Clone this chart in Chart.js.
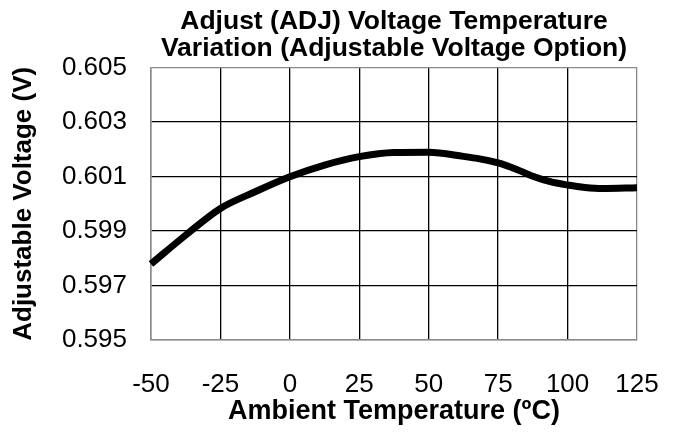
<!DOCTYPE html>
<html>
<head>
<meta charset="utf-8">
<script src="https://cdn.jsdelivr.net/npm/chart.js@4/dist/chart.umd.min.js"></script>
<style>
  html, body { margin: 0; padding: 0; background: #fff; }
  #wrap { width: 676px; height: 434px; }
</style>
</head>
<body>
<div id="wrap"><canvas id="c" width="676" height="434"></canvas></div>
<script>
const temperatures = [-50, -37.5, -25, -12.5, 0, 12.5, 25, 37.5, 50, 62.5, 68.75, 75, 81.25, 87.5, 93.75, 100, 106.25, 112.5, 125];
const voltages = [0.59779, 0.59885, 0.59983, 0.60044, 0.60099, 0.60142, 0.60173, 0.60188, 0.60189, 0.60174, 0.60164, 0.60150, 0.60128, 0.60101, 0.60081, 0.60069, 0.60060, 0.60056, 0.60059];
const xTicks = [-50, -25, 0, 25, 50, 75, 100, 125];
const yTicks = [0.595, 0.597, 0.599, 0.601, 0.603, 0.605];
const titleLines = ['Adjust (ADJ) Voltage Temperature', 'Variation (Adjustable Voltage Option)'];
const xTitle = 'Ambient Temperature (ºC)';
const yTitle = 'Adjustable Voltage (V)';

const FONT = '"Liberation Sans", Arial, Helvetica, sans-serif';
const points = temperatures.map((t, i) => ({ x: t, y: voltages[i] }));

function gridColor(ctx) {
  const n = ctx.scale.ticks.length;
  return (ctx.index === 0 || ctx.index === n - 1) ? '#8a8a8a' : '#000000';
}

new Chart(document.getElementById('c'), {
  type: 'line',
  data: {
    datasets: [{
      data: points,
      borderColor: '#000',
      borderWidth: 7,
      pointRadius: 0,
      cubicInterpolationMode: 'monotone',
      fill: false,
      clip: false
    }]
  },
  options: {
    responsive: false,
    animation: false,
    devicePixelRatio: 1,
    layout: { padding: { left: 6, right: 39, top: 8, bottom: 0 } },
    plugins: {
      legend: { display: false },
      tooltip: { enabled: false },
      title: {
        display: true,
        fullSize: false,
        text: titleLines,
        color: '#000',
        font: { family: FONT, size: 26.5, weight: 'bold', lineHeight: 1.02 },
        padding: { top: 0, bottom: 5.5 }
      }
    },
    scales: {
      x: {
        type: 'linear',
        min: -50,
        max: 125,
        afterBuildTicks: s => { s.ticks = xTicks.map(v => ({ value: v })); },
        afterFit: s => { s.height = 94; s.paddingLeft = 0; s.paddingRight = 0; },
        ticks: {
          color: '#000',
          font: { family: FONT, size: 26 },
          padding: 29,
          maxRotation: 0,
          autoSkip: false
        },
        grid: { color: gridColor, lineWidth: 1.3, drawTicks: false },
        border: { color: '#8a8a8a', width: 1.6 },
        title: {
          display: true,
          text: xTitle,
          color: '#000',
          font: { family: FONT, size: 27, weight: 'bold' },
          padding: { top: 0, bottom: 6 }
        }
      },
      y: {
        type: 'linear',
        min: 0.595,
        max: 0.605,
        afterBuildTicks: s => { s.ticks = yTicks.map(v => ({ value: v })); },
        afterFit: s => { s.width = 145; s.paddingTop = 0; s.paddingBottom = 0; },
        ticks: {
          color: '#000',
          font: { family: FONT, size: 26 },
          padding: 24,
          callback: v => Number(v).toFixed(3)
        },
        grid: { color: gridColor, lineWidth: 1.3, drawTicks: false },
        border: { color: '#8a8a8a', width: 1.6 },
        title: {
          display: true,
          text: yTitle,
          color: '#000',
          font: { family: FONT, size: 26, weight: 'bold' },
          padding: { top: 2, bottom: 0 }
        }
      }
    }
  }
});
</script>
</body>
</html>
